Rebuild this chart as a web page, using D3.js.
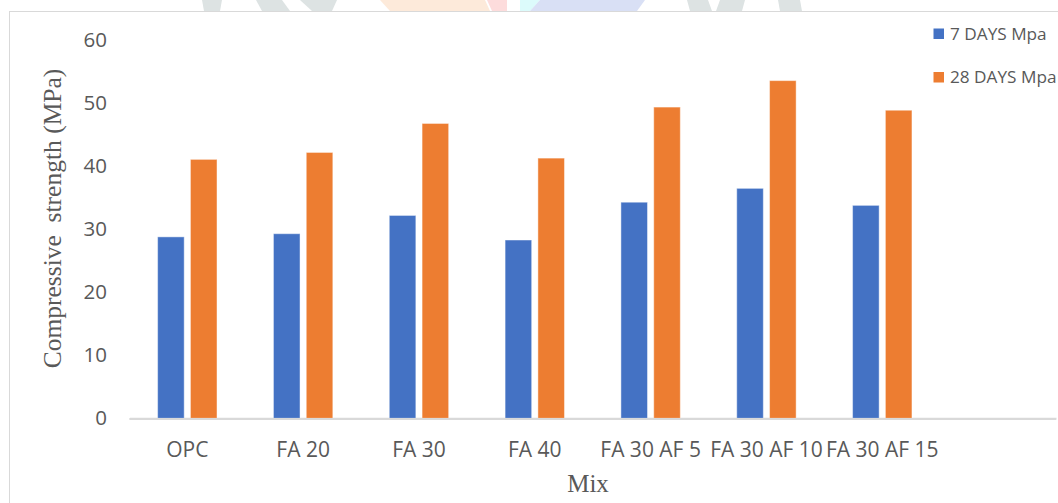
<!DOCTYPE html>
<html>
<head>
<meta charset="utf-8">
<script src="https://cdn.jsdelivr.net/npm/d3@7"></script>
<style>
  html, body { margin: 0; padding: 0; background: #fff; }
  svg { display: block; }
</style>
</head>
<body>
<svg id="chart" width="1058" height="503"></svg>
<script>
// Mix designs (the last slot is an empty category on the axis)
const categories = ["OPC", "FA 20", "FA 30", "FA 40", "FA 30 AF 5", "FA 30 AF 10", "FA 30 AF 15", ""];
const seriesNames = ["7 DAYS Mpa", "28 DAYS Mpa"];
const sevenDays = [28.8, 29.3, 32.2, 28.3, 34.3, 36.5, 33.8];
const twentyEightDays = [41.1, 42.2, 46.8, 41.3, 49.4, 53.6, 48.9];
const yTicks = [0, 10, 20, 30, 40, 50, 60];
const colors = ["#4472C4", "#ED7D31"];

const svg = d3.select("#chart");
const W = 1058, H = 503;

// faint background artwork peeking above the chart frame
const deco = svg.append("g");
const decoShapes = [
  { c: "#dde3e3", p: [[202, 0], [222, 0], [220, 11], [204, 11]] },
  { c: "#dde3e3", p: [[256, 0], [282, 0], [290, 11], [262, 11]] },
  { c: "#dde3e3", p: [[300, 0], [337, 0], [332, 11], [312, 11]] },
  { c: "#fdeada", p: [[380, 0], [485, 0], [490, 11], [390, 11]] },
  { c: "#fddcdc", p: [[487, 0], [507, 0], [507, 11], [492, 11]] },
  { c: "#dcfbfb", p: [[520, 0], [540, 0], [530, 11], [520, 11]] },
  { c: "#d9e0f5", p: [[540, 0], [645, 0], [637, 11], [530, 11]] },
  { c: "#dde3e3", p: [[687, 0], [708, 0], [712, 11], [690, 11]] },
  { c: "#dde3e3", p: [[720, 0], [745, 0], [742, 11], [716, 11]] },
  { c: "#dde3e3", p: [[778, 0], [800, 0], [802, 11], [780, 11]] }
];
deco.selectAll("path").data(decoShapes).join("path")
  .attr("d", d => d3.line()(d.p) + "Z")
  .attr("fill", d => d.c);

// chart frame
svg.append("rect")
  .attr("x", 9.5).attr("y", 11.5)
  .attr("width", W).attr("height", H)
  .attr("fill", "#fff")
  .attr("stroke", "#d9d9d9").attr("stroke-width", 1);

const x0 = d3.scaleBand().domain(categories).range([129.4, 1056]).padding(0);
const x1 = d3.scaleBand().domain(seriesNames).range([0, x0.bandwidth()])
  .paddingInner(0.19).paddingOuter(0.86);
const y = d3.scaleLinear().domain([0, 60]).range([418.3, 40.3]);
const color = d3.scaleOrdinal().domain(seriesNames).range(colors);

// y tick labels (no axis line, no gridlines)
const yAxis = d3.axisLeft(y).tickValues(yTicks).tickSize(0).tickPadding(0);
const gy = svg.append("g").attr("transform", "translate(107,0)").call(yAxis);
gy.select(".domain").remove();
gy.selectAll("text")
  .attr("fill", "#595959")
  .style("font-family", "'Open Sans', sans-serif")
  .style("font-size", "20.5px");

// category axis
const xAxis = d3.axisBottom(x0).tickSize(0).tickPadding(0);
const gx = svg.append("g").attr("transform", "translate(0,418.3)").call(xAxis);
gx.select(".domain").attr("stroke", "#d9d9d9").attr("stroke-width", 2);
gx.selectAll("text")
  .attr("fill", "#595959")
  .attr("y", 0)
  .attr("dy", "39px")
  .style("font-family", "'Open Sans', sans-serif")
  .style("font-size", "21px");

// bars
const rows = categories.slice(0, sevenDays.length).map((c, i) => ({
  cat: c,
  vals: [
    { s: seriesNames[0], v: sevenDays[i] },
    { s: seriesNames[1], v: twentyEightDays[i] }
  ]
}));
const groups = svg.append("g").selectAll("g").data(rows).join("g")
  .attr("transform", d => `translate(${x0(d.cat)},0)`);
groups.selectAll("rect").data(d => d.vals).join("rect")
  .attr("x", d => x1(d.s))
  .attr("width", x1.bandwidth())
  .attr("y", d => y(d.v))
  .attr("height", d => y(0) - y(d.v))
  .attr("fill", d => color(d.s))
  .attr("stroke", "#ffffff").attr("stroke-opacity", 0.45).attr("stroke-width", 1);

// redraw baseline over bar bottoms
svg.append("line")
  .attr("x1", x0.range()[0]).attr("x2", x0.range()[1])
  .attr("y1", 419).attr("y2", 419)
  .attr("stroke", "#d9d9d9").attr("stroke-width", 2);

// axis titles
svg.append("text")
  .attr("transform", "translate(61,218.5) rotate(-90)")
  .attr("text-anchor", "middle")
  .attr("fill", "#595959")
  .style("font-family", "'Liberation Serif', 'Times New Roman', serif")
  .style("font-size", "25.5px")
  .style("white-space", "pre")
  .text("Compressive  strength (MPa)");

svg.append("text")
  .attr("x", 588).attr("y", 491.5)
  .attr("text-anchor", "middle")
  .attr("fill", "#595959")
  .style("font-family", "'Liberation Serif', 'Times New Roman', serif")
  .style("font-size", "25px")
  .text("Mix");

// legend
const legend = svg.append("g").selectAll("g").data(seriesNames).join("g")
  .attr("transform", (d, i) => `translate(933.5,${28.5 + i * 43.5})`);
legend.append("rect")
  .attr("width", 10.5).attr("height", 10.5)
  .attr("fill", d => color(d));
legend.append("text")
  .attr("x", 16.5).attr("y", 11)
  .attr("fill", "#595959")
  .style("font-family", "'Open Sans', sans-serif")
  .style("font-size", "17.2px")
  .text(d => d);
</script>
</body>
</html>
